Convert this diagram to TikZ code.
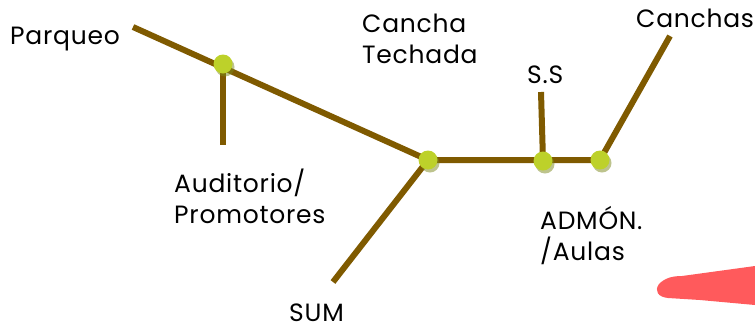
\documentclass[tikz,border=0pt]{standalone}
\usepackage{fontspec}
\setmainfont{Poppins}[LetterSpace=3]
\usetikzlibrary{positioning}
\definecolor{roadbrown}{HTML}{7F5A00}
\definecolor{stopgreen}{HTML}{BDD12A}
\definecolor{brushred}{HTML}{FF5A5C}
\begin{document}
\begin{tikzpicture}[x=1pt,y=-1pt,
  road/.style={roadbrown, line width=6pt},
  stop/.style={circle, fill=stopgreen, inner sep=0pt, minimum size=19pt},
  stopshadow/.style={circle, fill=black!35!stopgreen, opacity=0.5, inner sep=0pt, minimum size=19pt},
  place/.style={font=\fontsize{25}{31}\selectfont, align=left, inner sep=0pt, anchor=base west}]
\useasboundingbox (0,0) rectangle (755,330);
%% Free ends of the roads
\coordinate (parqEnd) at (133,27);
\coordinate (audEnd) at (223,145);
\coordinate (sumEnd) at (333,282);
\coordinate (ssEnd) at (541,92);
\coordinate (canEnd) at (670,36);
%% Stops
\coordinate (audStop) at (223,64);
\coordinate (midStop) at (428,160);
\coordinate (ssStop) at (543,161);
\coordinate (admStop) at (600,160);
%% Roads
\draw[road] (parqEnd) -- (midStop) -- (admStop) -- (canEnd);
\draw[road] (audStop) -- (audEnd);
\draw[road] (midStop) -- (sumEnd);
\draw[road] (ssStop) -- (ssEnd);
%% Dots on the stops
\foreach \name in {audStop, midStop, ssStop, admStop}{
  \node[stopshadow] at ([shift={(2,3)}]\name) {};
  \node[stop] (\name Dot) at (\name) {};
}
%% Labels
\node[place] (parqueo) at (10,44) {Parqueo};
\node[place] (techada) at (362,63) {Cancha\\Techada};
\node[place] (ss) at (527,83) {S.S};
\node[place] (canchas) at (636,27) {Canchas};
\node[place] (auditorio) at (174,223) {Auditorio/\\Promotores};
\node[place, text depth=0pt] (sum) at (289,321) {SUM};
\node[place] (admon) at (540,260) {ADMÓN.\\/Aulas};
%% Red brush stroke
\fill[brushred] (659,284) .. controls (665,278) and (672,276) .. (682,276)
  -- (755,266) -- (755,305) -- (700,300) -- (668,298)
  .. controls (658,297) and (654,291) .. (659,284);
\end{tikzpicture}
\end{document}
